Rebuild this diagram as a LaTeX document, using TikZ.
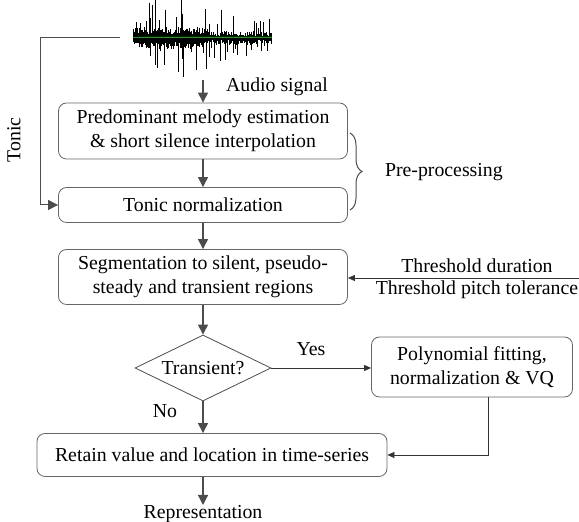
\documentclass[tikz,border=0pt]{standalone}
\usepackage{fontspec}
\setmainfont{Liberation Serif}
\usetikzlibrary{shapes.geometric,arrows.meta,decorations.pathreplacing}

\begin{document}
\begin{tikzpicture}[x=0.5pt,y=-0.5pt,font=\fontsize{9.9}{11.9}\selectfont,
  box/.style={draw=black!60,rounded corners=4pt,align=center,inner sep=0pt},
  flow/.style={draw=black!70,line width=0.6pt,-{Triangle[length=5pt,width=5pt]}},
  thin/.style={draw=black!80,line width=0.4pt,-{Triangle[length=3.5pt,width=3pt]}}]
\useasboundingbox (0,0) rectangle (579,522);
% waveform
\pgfmathsetseed{11}
\foreach \i in {0,...,138}{
  \pgfmathsetmacro\wenv{\i<75 ? 31 : 24-0.1*(\i-75)}
  \pgfmathsetmacro\wtop{(\i<75 ? 4+7*rnd : 2+5*rnd)+(rnd>0.78 ? \wenv*rnd : 0)}
  \pgfmathsetmacro\wbot{(\i<75 ? 4+7*rnd : 2+5*rnd)+(rnd>0.78 ? \wenv*rnd : 0)}
  \draw[line width=0.4pt] (133+\i,38-\wtop) -- (133+\i,38+\wbot);
}
\draw[green!70!black,line width=0.5pt] (133,38) -- (272,38);
\coordinate (wave) at (203,80);
\coordinate (wavel) at (120,38);
\node (melody) [box,minimum width=144.5pt,minimum height=28pt] at (203,131)
  {Predominant melody estimation\\\& short silence interpolation};
\node (tonicnorm) [box,minimum width=144.5pt,minimum height=17.5pt] at (203,205) {Tonic normalization};
\node (segment) [box,minimum width=144.5pt,minimum height=27.5pt] at (203,277)
  {Segmentation to silent, pseudo-\\steady and transient regions};
\node (transient) [draw=black!70,diamond,aspect=2.1,inner sep=1pt,minimum width=68pt,minimum height=33pt] at (203,368) {Transient?};
\node (poly) [box,minimum width=100.5pt,minimum height=30pt] at (472,367)
  {Polynomial fitting,\\normalization \& VQ};
\node (retain) [box,minimum width=175pt,minimum height=21.5pt] at (212,455)
  {Retain value and location in time-series};
\coordinate (thr) at (579,278);
\coordinate (rep) at (203,505);
% labels
\node (audio) [anchor=west] at (219,87) {Audio signal};
\node (tonic) [rotate=90] at (14,140) {Tonic};
\node (pre) [anchor=west] at (378,172) {Pre-processing};
\node (thrdur) at (477,266) {Threshold duration};
\node (thrpitch) at (477,290) {Threshold pitch tolerance};
\node (yes) at (311,349) {Yes};
\node (no) at (165,411) {No};
\node (repr) at (203,514) {Representation};
% connectors
\draw[flow] (wave) -- (melody);
\draw[flow] (melody) -- (tonicnorm);
\draw[flow] (tonicnorm) -- (segment);
\draw[flow] (segment) -- (transient);
\draw[flow] (transient) -- (transient.south |- retain.north);
\draw[flow] (retain.south -| rep) -- (rep);
\draw[flow,line width=0.5pt] (wavel) -- (40,38) |- (tonicnorm.west);
\draw[thin] (thr) -- (segment.east |- thr);
\draw[thin] (transient.east) -- (poly.west |- transient.east);
\draw[thin] (poly.south -| 488,0) |- (retain.east);
\draw[black!70,line width=0.5pt,decorate,decoration={brace,amplitude=6pt}] (350,133) -- (350,210);
\end{tikzpicture}
\end{document}
